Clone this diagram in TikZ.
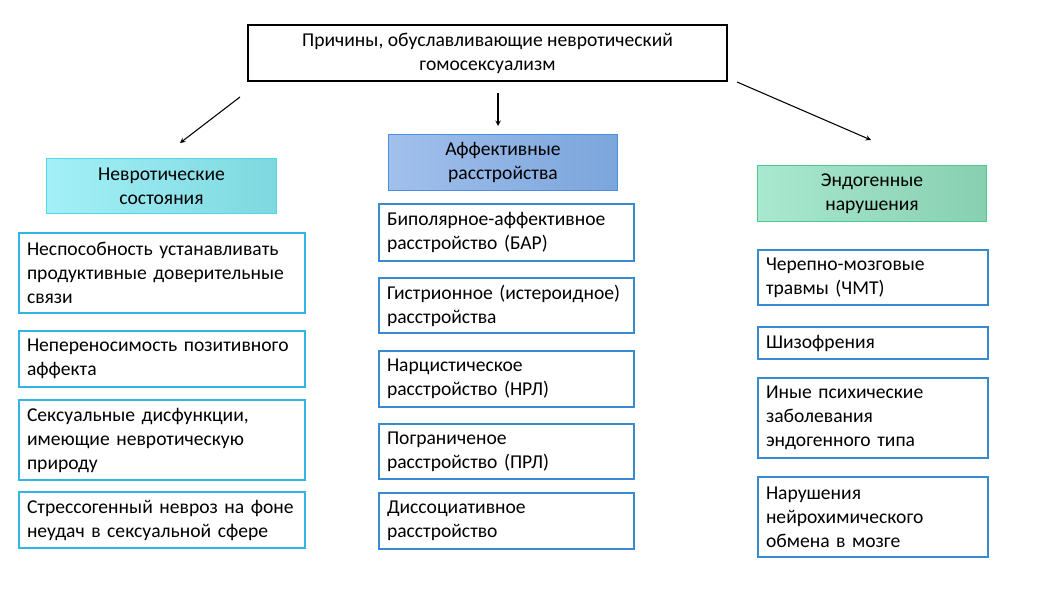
\documentclass[tikz,border=0pt]{standalone}
\usepackage{fontspec}
\setmainfont{Carlito}
\usetikzlibrary{arrows}
\definecolor{black}{cmyk}{0,0,0.0,1.0}
\definecolor{cyanline}{HTML}{33B4E6}
\definecolor{blueline}{HTML}{3A8AD0}
\definecolor{cyanA}{HTML}{A3F0F7}
\definecolor{cyanB}{HTML}{7ED8DF}
\definecolor{cyanedge}{HTML}{4DD9E6}
\definecolor{blueA}{HTML}{A2C0EC}
\definecolor{blueB}{HTML}{7BA5DC}
\definecolor{blueedge}{HTML}{4A90E2}
\definecolor{greenA}{HTML}{A8E8D0}
\definecolor{greenB}{HTML}{88CFB1}
\definecolor{greenedge}{HTML}{4CCB8F}

\tikzset{
  txt/.style={font=\fontsize{14.7}{18}\selectfont,inner sep=0pt},
  item/.style={txt,draw,line width=1.1pt,align=left,inner xsep=6pt},
  leftitem/.style={item,draw=cyanline,minimum width=214.5pt,text width=202.5pt},
  miditem/.style={item,draw=blueline,minimum width=191.25pt,text width=179.25pt},
  rightitem/.style={item,draw=blueline,minimum width=172.5pt,text width=160.5pt},
  head/.style={txt,draw,line width=0.8pt,align=center,minimum width=172pt,minimum height=41.5pt},
  arr/.style={->,>=stealth,line width=0.8pt}
}

\begin{document}
\begin{tikzpicture}[x=0.75pt,y=-0.75pt]
        \useasboundingbox[fill=white] (0,0) rectangle (1050,591);

        % top
        \node[txt,draw,line width=1.1pt,align=center,minimum width=359pt,minimum height=42pt] (top) at (487.5,53)
        {Причины, обуславливающие невротический\\гомосексуализм};

        % headers
        \node[head,draw=cyanedge,left color=cyanA,right color=cyanB] (neur) at (161.5,186) {Невротические\\состояния};
        \node[head,draw=blueedge,left color=blueA,right color=blueB] (aff) at (503,162.5) {Аффективные\\расстройства};
        \node[head,draw=greenedge,left color=greenA,right color=greenB] (endo) at (872,193.5) {Эндогенные\\нарушения};

        % arrows
        \coordinate (a1) at (240,97);  \coordinate (b1) at (180,143); \draw[arr] (a1) -- (b1);
        \coordinate (a2) at (498,93);  \coordinate (b2) at (498,126); \draw[arr] (a2) -- (b2);
        \coordinate (a3) at (737,82);  \coordinate (b3) at (871,140); \draw[arr] (a3) -- (b3);

        % left column
        \node[leftitem,minimum height=60pt] (n1) at (162,273) {Неспособность устанавливать\\продуктивные доверительные\\связи};
        \node[leftitem,minimum height=42pt] (n2) at (162,359) {Непереносимость позитивного\\аффекта};
        \node[leftitem,minimum height=60pt] (n3) at (162,440) {Сексуальные дисфункции,\\имеющие невротическую\\природу};
        \node[leftitem,minimum height=42pt] (n4) at (162,520) {Стрессогенный невроз на фоне\\неудач в сексуальной сфере};

        % middle column
        \node[miditem,minimum height=42.75pt] (m1) at (506.5,232.5) {Биполярное-аффективное\\расстройство (БАР)};
        \node[miditem,minimum height=41.25pt] (m2) at (506.5,305.5) {Гистрионное (истероидное)\\расстройства};
        \node[miditem,minimum height=42pt] (m3) at (506.5,379) {Нарцистическое\\расстройство (НРЛ)};
        \node[miditem,minimum height=41.25pt] (m4) at (506.5,451.5) {Пограниченое\\расстройство (ПРЛ)};
        \node[miditem,minimum height=42pt] (m5) at (506.5,521) {Диссоциативное\\расстройство};

        % right column
        \node[rightitem,minimum height=41.25pt] (r1) at (873,277.5) {Черепно-мозговые\\травмы (ЧМТ)};
        \node[rightitem,minimum height=24pt] (r2) at (873,343) {Шизофрения};
        \node[rightitem,minimum height=60pt] (r3) at (873,418) {Иные психические\\заболевания\\эндогенного типа};
        \node[rightitem,minimum height=60pt] (r4) at (873,517) {Нарушения\\нейрохимического\\обмена в мозге};

      \end{tikzpicture}
\end{document}
